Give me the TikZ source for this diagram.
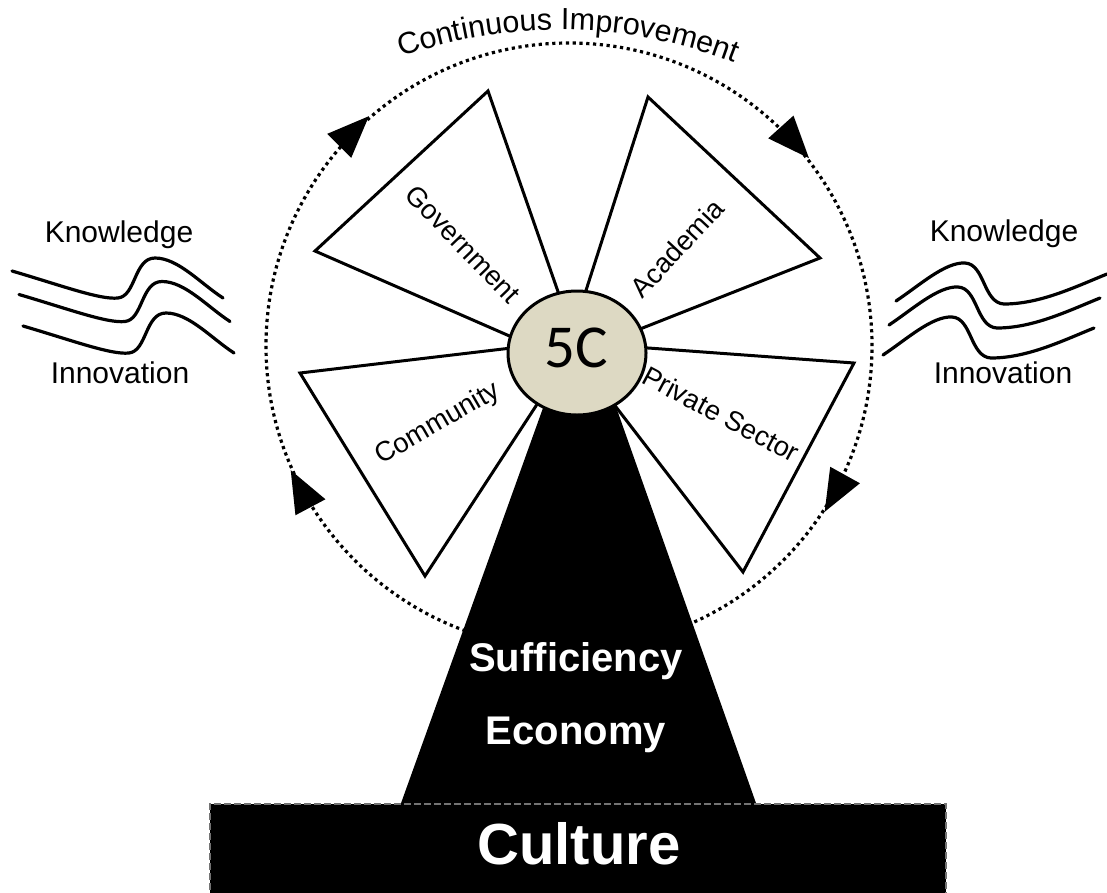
\documentclass[tikz,border=0pt]{standalone}
\usepackage{fontspec}
\setmainfont{Liberation Sans}
\newfontfamily\fivecfont{Carlito}
\usetikzlibrary{decorations.text,calc}
\definecolor{hubfill}{HTML}{DDD9C3}
\newcommand\cifont{\fontsize{30.5}{36}\selectfont}
\begin{document}
\begin{tikzpicture}[x=1pt,y=1pt,
  blade/.style={draw=black, fill=white, line width=3pt, line join=miter},
  lbl/.style={font=\fontsize{27.5}{32}\selectfont, inner sep=0pt},
  wave/.style={line width=3.2pt, line cap=round},
  side/.style={font=\fontsize{30}{36}\selectfont, inner sep=0pt, anchor=base},
  towertext/.style={font=\bfseries\fontsize{40}{48}\selectfont, text=white, inner sep=0pt, anchor=base},
  arrowtri/.style={fill=black}]
\useasboundingbox (0,0) rectangle (1107,-892);
\fill[white] (0,0) rectangle (1107,-892);

% continuous improvement loop
\coordinate (C) at (569,-346);
\draw[line width=3.2pt, dash pattern=on 3.2pt off 3.6pt] (C) circle[radius=303];
\foreach \a in {135,42,-29,208}
  \fill[arrowtri, shift={($(C)+(\a:304)$)}, rotate=\a-90] (21,0) -- (-21,17) -- (-21,-17) -- cycle;

\path[decorate, decoration={text along path, text align=center,
   text={|\cifont|Continuous Improvement}}]
   ($(560,-510)+(119:480)$) arc[start angle=119, end angle=59, radius=480];

% tower and base
\fill[black] (580,-305) -- (400,-806) -- (757,-806) -- cycle;
\fill[black] (210,-804) rectangle (946,-900);
\draw[black!55, line width=1.8pt, dash pattern=on 7pt off 3pt]
  (210,-900) -- (210,-804) -- (946,-804) -- (946,-900);

% blades
\draw[blade] (585,-369) -- (488,-91) -- (315,-251) -- cycle;
\draw[blade] (564,-359) -- (648,-97) -- (820,-258) -- cycle;
\draw[blade] (566,-342) -- (854,-363) -- (743,-572) -- cycle;
\draw[blade] (579,-340) -- (300,-373) -- (425,-576) -- cycle;

% hub
\filldraw[fill=hubfill, line width=3pt] (577,-353) ellipse[x radius=69, y radius=62];
\node[font=\fivecfont\fontsize{61}{70}\selectfont, inner sep=0pt, anchor=base] (hub) at (576,-367) {5C};

% blade labels
\node[lbl, rotate=-46] (gov) at (463,-244) {Government};
\node[lbl, rotate=47] (aca) at (677,-248) {Academia};
\node[lbl, rotate=-28] (pri) at (721,-414) {Private Sector};
\node[lbl, rotate=30] (com) at (438,-424) {Community};

% side texts
\node[side] (kl) at (119,-242) {Knowledge};
\node[side] (il) at (120,-383) {Innovation};
\node[side] (kr) at (1004,-241) {Knowledge};
\node[side] (ir) at (1003,-383) {Innovation};

% waves left
\foreach \s in {{(0,0)},{(7,-23.5)},{(11,-55)}}
  \draw[wave, shift=\s] (12,-271) .. controls (60,-285) and (100,-300) .. (118,-298)
     .. controls (136,-296) and (134,-258) .. (155,-258)
     .. controls (178,-258) and (200,-283) .. (223,-298);
% waves right
\foreach \s in {{(0,0)},{(-7,-24)},{(-13,-54)}}
  \draw[wave, shift=\s] (896,-301) .. controls (920,-285) and (945,-262) .. (965,-263)
     .. controls (985,-264) and (983,-303) .. (1004,-304)
     .. controls (1040,-304) and (1075,-287) .. (1107,-274);

% tower texts
\node[towertext] (suf) at (576,-671) {Sufficiency};
\node[towertext] (eco) at (576,-744) {Economy};
\node[towertext, font=\bfseries\fontsize{58}{70}\selectfont] (cul) at (579,-864) {Culture};
\end{tikzpicture}
\end{document}
